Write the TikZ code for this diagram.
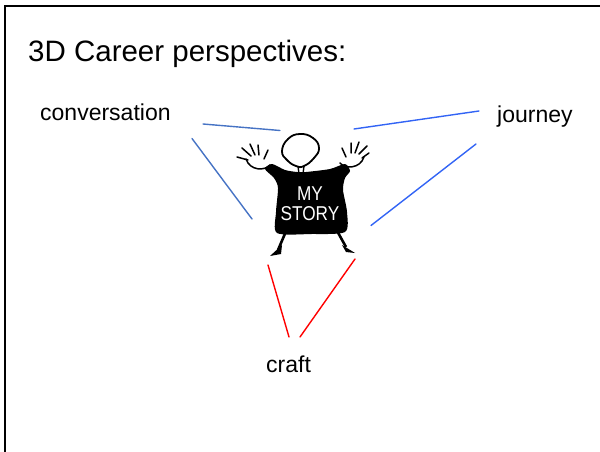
\documentclass[tikz,border=0pt]{standalone}
\usepackage{fontspec}
\setmainfont{Liberation Sans}
\definecolor{convblue}{RGB}{70,115,196}
\definecolor{jourblue}{RGB}{50,100,245}
\definecolor{craftred}{RGB}{255,0,0}
\tikzset{
  lbl/.style={inner sep=0pt, anchor=base west, font=\fontsize{23}{27}\selectfont},
  link/.style={line width=1.4pt, line cap=round},
  handline/.style={line width=1.5pt, line cap=round, line join=round, black},
}
\begin{document}
\begin{tikzpicture}[x=1pt,y=-1pt]
\useasboundingbox (0,0) rectangle (600,452);
% frame
\draw[line width=2.5pt] (5,452) -- (5,6) -- (602,6);
% title and labels
\node[lbl, font=\fontsize{29.5}{34}\selectfont] (title) at (28,62) {3D Career perspectives:};
\node[lbl] (conv) at (40,121) {conversation};
\node[lbl] (jour) at (497,122) {journey};
\node[lbl] (craft) at (266,372) {craft};
% figure: body
\fill[black] plot[smooth cycle, tension=0.45] coordinates {
  (297,172) (285,170) (272,164) (265,169) (274,178) (278,188)
  (276,212) (277,233) (311,234) (345,232) (347,212) (343,190)
  (345,178) (350,171) (345,164) (330,169) (306,172)};
% legs and feet
\draw[line width=2.6pt] (287,229) -- (278,250);
\fill (270,256) -- (282,245) -- (281,254) -- cycle;
\draw[line width=2.6pt] (336,229) -- (346,247);
\fill (355,253) -- (342,245) -- (346,252) -- cycle;
% head and neck
\draw[line width=1.8pt, fill=white] plot[smooth cycle, tension=0.8] coordinates {
  (300,134) (313,138) (319,148) (314,158) (304,166) (296,166) (287,160) (282,151) (288,139)};
\draw[line width=1.4pt] (298,166) -- (299,174) (304,166) -- (303,174);
% left hand
\draw[handline] (246,159) .. controls (250,171) and (265,171) .. (270,165);
\draw[handline] (248,160) -- (237,157) (251,156) -- (242,148) (255,155) -- (250,144)
  (259,155) -- (258,145) (264,159) -- (268,150);
% right hand
\draw[handline] (364,157) .. controls (360,169) and (345,169) .. (340,163);
\draw[handline] (362,158) -- (369,153) (359,154) -- (367,146) (355,153) -- (359,142)
  (351,153) -- (351,143) (346,157) -- (342,148);
% text on the body
\node[inner sep=0pt, text=white, align=center,
  font=\fontsize{20}{19.5}\selectfont] (story) at (310,203.5)
  {\scalebox{0.86}[1]{MY}\\\scalebox{0.86}[1]{STORY}};
% connectors
\coordinate (c1) at (203,124);
\coordinate (c2) at (280,130.5);
\coordinate (c3) at (192,138.5);
\coordinate (c4) at (252,219);
\coordinate (j1) at (354,129);
\coordinate (j2) at (479,111);
\coordinate (j3) at (476,144);
\coordinate (j4) at (371,225.5);
\coordinate (r1) at (268,265);
\coordinate (r2) at (289,337);
\coordinate (r3) at (355,259);
\coordinate (r4) at (300,337);
\draw[link, convblue] (c1) -- (c2);
\draw[link, convblue] (c3) -- (c4);
\draw[link, jourblue] (j1) -- (j2);
\draw[link, jourblue] (j3) -- (j4);
\draw[link, craftred] (r1) -- (r2);
\draw[link, craftred] (r3) -- (r4);
\end{tikzpicture}
\end{document}
